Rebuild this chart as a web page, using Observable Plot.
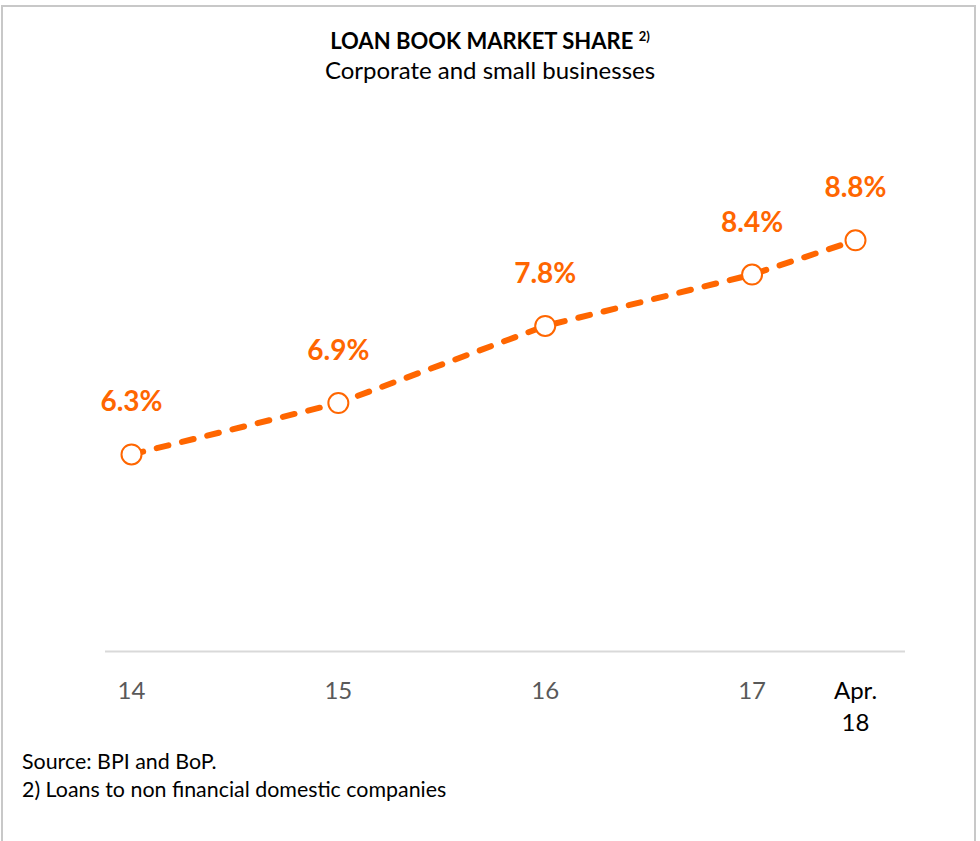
<!DOCTYPE html>
<html><head><meta charset="utf-8">
<script src="https://cdn.jsdelivr.net/npm/d3@7"></script>
<script src="https://cdn.jsdelivr.net/npm/@observablehq/plot@0.6"></script>
<style>
body{margin:0;background:#fff;font-family:Lato,"Open Sans",sans-serif;}
#wrap{position:relative;width:980px;height:841px;overflow:hidden;background:#fff;}
#frame{position:absolute;left:1px;top:5px;width:975px;height:900px;border:2px solid #c8c8c8;border-bottom:none;box-sizing:border-box;}
#chart{position:absolute;left:0;top:0;}
.t{position:absolute;left:0;width:980px;text-align:center;color:#000;white-space:nowrap;}
#title{top:27px;font-weight:bold;font-size:22px;line-height:28px;}
#title sup{font-size:13px;vertical-align:top;position:relative;top:-5px;}
#subtitle{top:55px;font-size:24px;line-height:30px;}
#notes{position:absolute;left:22px;top:747px;font-size:21.4px;line-height:28px;color:#000;}
</style></head>
<body>
<div id="wrap">
  <div id="frame"></div>
  <div id="chart"></div>
  <div class="t" id="title">LOAN BOOK MARKET SHARE <sup>2)</sup></div>
  <div class="t" id="subtitle">Corporate and small businesses</div>
  <div id="notes">Source: BPI and BoP.<br>2) Loans to non financial domestic companies</div>
</div>
<script>
const categories = ["14", "15", "16", "17", "Apr.\n18"];
const periods = [14, 15, 16, 17, 17.5];
const shares = [6.3, 6.9, 7.8, 8.4, 8.8];

const data = categories.map((c, i) => ({cat: c, period: periods[i], value: shares[i]}));
const orange = "#FF6600";

const chart = Plot.plot({
  width: 980,
  height: 841,
  marginLeft: 105,
  marginRight: 75,
  marginTop: 137,
  marginBottom: 190,
  style: {background: "transparent", fontFamily: "Lato, 'Open Sans', sans-serif", overflow: "visible"},
  x: {domain: [14, 17.5], range: [131, 855], axis: null},
  y: {domain: [4, 10], axis: null},
  marks: [
    Plot.ruleY([4], {stroke: "#d9d9d9", strokeWidth: 2}),
    Plot.line(data, {x: "period", y: "value", stroke: orange, strokeWidth: 6, strokeDasharray: "12,14", strokeLinecap: "round"}),
    Plot.dot(data, {x: "period", y: "value", r: 10, fill: "white", stroke: orange, strokeWidth: 2}),
    Plot.text(data, {x: "period", y: "value", text: d => d.value.toFixed(1) + "%", dy: -52, fill: orange, fontWeight: "bold", fontSize: 28}),
    Plot.text(data, {x: "period", y: () => 4, text: "cat", dy: 24, lineAnchor: "top", lineHeight: 1.36, fontSize: 24,
      fill: d => d.cat.startsWith("Apr") ? "#000000" : "#595959"})
  ]
});
document.getElementById("chart").appendChild(chart);
</script>
</body></html>
